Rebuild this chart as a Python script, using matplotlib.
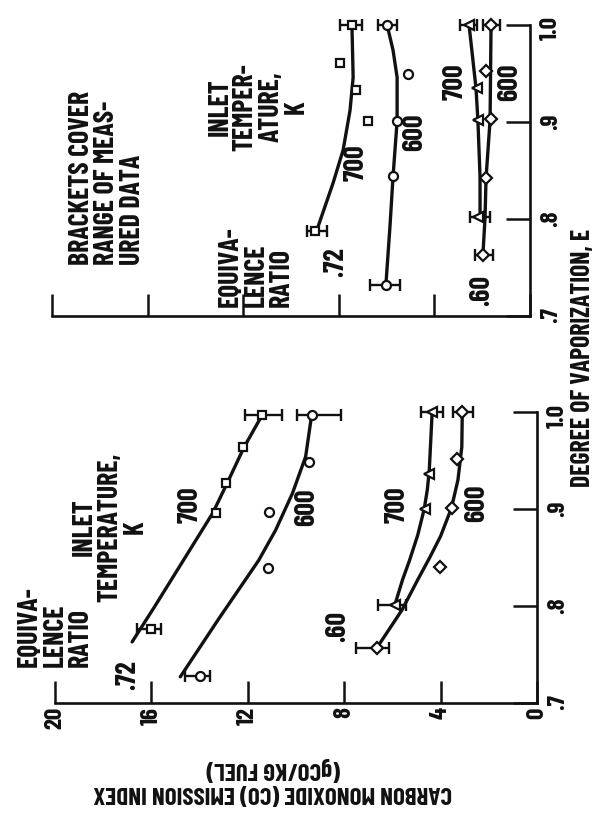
import matplotlib
matplotlib.use('Agg')
import numpy as np
import matplotlib.pyplot as plt

plt.rcParams['font.family'] = ['Barlow Condensed', 'Liberation Sans Narrow', 'DejaVu Sans']
plt.rcParams['font.weight'] = 'bold'

# The page is printed turned 90 deg: emission index runs right-to-left along
# the bottom of each panel, degree of vaporization runs upward on the right.

# ---- left panel of the original (lower panel on the page) ----
# equivalence ratio .72, inlet 700 K (squares)
l72_700_e = [0.776, 0.896, 0.927, 0.964, 0.997]
l72_700_co = [16.0, 13.3, 12.9, 12.2, 11.4]
l72_700_fit_e = [0.763, 0.8, 0.85, 0.896, 0.927, 0.964, 0.997]
l72_700_fit_co = [16.8, 15.85, 14.6, 13.45, 12.85, 12.15, 11.4]
l72_700_br_e = [0.776, 0.997]
l72_700_br_lo = [15.6, 10.6]
l72_700_br_hi = [16.6, 12.1]

# equivalence ratio .72, inlet 600 K (circles)
l72_600_e = [0.728, 0.839, 0.897, 0.948, 0.997]
l72_600_co = [14.0, 11.15, 11.1, 9.46, 9.35]
l72_600_fit_e = [0.727, 0.787, 0.827, 0.847, 0.878, 0.916, 0.954, 0.997]
l72_600_fit_co = [14.8, 13.2, 12.1, 11.55, 10.85, 10.15, 9.6, 9.35]
l72_600_br_e = [0.728, 0.997]
l72_600_br_lo = [13.55, 8.14]
l72_600_br_hi = [14.6, 9.95]

# equivalence ratio .60, inlet 700 K (triangles)
l60_700_e = [0.801, 0.900, 0.936, 1.0]
l60_700_co = [5.9, 4.63, 4.49, 4.35]
l60_700_fit_e = [0.801, 0.827, 0.847, 0.873, 0.9, 0.92, 0.94, 1.0]
l60_700_fit_co = [5.9, 5.58, 5.29, 4.95, 4.68, 4.55, 4.47, 4.35]
l60_700_br_e = [0.801, 1.0]
l60_700_br_lo = [5.43, 3.9]
l60_700_br_hi = [6.61, 4.8]

# equivalence ratio .60, inlet 600 K (diamonds)
l60_600_e = [0.757, 0.84, 0.901, 0.952, 1.0]
l60_600_co = [6.64, 4.01, 3.54, 3.33, 3.1]
l60_600_fit_e = [0.757, 0.796, 0.827, 0.85, 0.872, 0.901, 0.93, 0.964, 1.0]
l60_600_fit_co = [6.64, 5.6, 4.95, 4.45, 4.0, 3.55, 3.28, 3.12, 3.1]
l60_600_br_e = [0.757, 1.0]
l60_600_br_lo = [6.13, 2.65]
l60_600_br_hi = [7.51, 3.49]

# ---- right panel of the original (upper panel on the page) ----
r72_700_e = [0.788, 0.901, 0.933, 0.961, 1.0]
r72_700_co = [9.0, 6.78, 7.28, 7.95, 7.45]
r72_700_fit_e = [0.792, 0.837, 0.871, 0.912, 0.946, 1.0]
r72_700_fit_co = [8.87, 8.24, 7.82, 7.53, 7.4, 7.45]
r72_700_br_e = [0.788, 1.0]
r72_700_br_lo = [8.5, 7.03]
r72_700_br_hi = [9.33, 7.95]

r72_600_e = [0.732, 0.844, 0.901, 0.95, 1.0]
r72_600_co = [6.03, 5.73, 5.56, 5.1, 5.98]
r72_600_fit_e = [0.732, 0.792, 0.844, 0.901, 0.946, 0.974, 1.0]
r72_600_fit_co = [6.03, 5.86, 5.73, 5.56, 5.56, 5.73, 5.98]
r72_600_br_e = [0.732, 1.0]
r72_600_br_lo = [5.44, 5.56]
r72_600_br_hi = [6.69, 6.36]

r60_700_e = [0.802, 0.902, 0.935, 1.0]
r60_700_co = [2.18, 2.18, 2.22, 2.55]
r60_700_fit_e = [0.802, 0.843, 0.902, 0.935, 1.0]
r60_700_fit_co = [2.09, 2.09, 2.18, 2.26, 2.55]
r60_700_br_e = [0.802, 1.0]
r60_700_br_lo = [1.67, 2.22]
r60_700_br_hi = [2.5, 2.93]

r60_600_e = [0.763, 0.842, 0.903, 0.953, 1.0]
r60_600_co = [1.97, 1.84, 1.63, 1.84, 1.63]
r60_600_fit_e = [0.763, 0.802, 0.842, 0.902, 1.0]
r60_600_fit_co = [1.97, 1.88, 1.84, 1.67, 1.63]
r60_600_br_e = [0.763, 1.0]
r60_600_br_lo = [1.55, 1.26]
r60_600_br_hi = [2.3, 1.97]

co_ticks = [0, 4, 8, 12, 16, 20]
co_labels = ['0', '4', '8', '12', '16', '20']
e_ticks = [0.7, 0.8, 0.9, 1.0]
e_labels = ['.7', '.8', '.9', '1.0']

INK = '#111111'
W, H = 594, 819


def px(x, y):
    # page pixel (from top-left) -> figure fraction
    return x / W, 1 - y / H


def draw_series(ax, e, co, fit_e, fit_co, br_e, br_lo, br_hi, marker, ms):
    ax.plot(fit_co, fit_e, '-', color=INK, lw=2.4, solid_capstyle='round', zorder=2, clip_on=False)
    br_e = np.array(br_e)
    lo = np.array(br_lo)
    hi = np.array(br_hi)
    mid = (lo + hi) / 2
    ax.errorbar(mid, br_e, xerr=(hi - lo) / 2, fmt='none', ecolor=INK,
                elinewidth=1.7, capsize=4.5, capthick=1.7, zorder=3, clip_on=False)
    ax.plot(co, e, linestyle='none', marker=marker, ms=ms, mfc='white', mec=INK,
            mew=1.6, zorder=4, clip_on=False)


def setup_axes(ax, show_co_labels):
    ax.set_xlim(20, 0)
    ax.set_ylim(0.7, 1.0)
    for s in ['top', 'left']:
        ax.spines[s].set_visible(False)
    for s in ['bottom', 'right']:
        ax.spines[s].set_linewidth(1.9)
        ax.spines[s].set_color(INK)
    ax.set_xticks(co_ticks)
    ax.set_xticklabels(co_labels if show_co_labels else [])
    ax.set_yticks(e_ticks)
    ax.set_yticklabels(e_labels)
    ax.yaxis.tick_right()
    ax.tick_params(axis='x', direction='in', length=16, width=1.8, color=INK,
                   labelsize=18, labelrotation=90, pad=3, labelcolor=INK)
    ax.tick_params(axis='y', direction='in', length=17, width=1.8, color=INK,
                   labelsize=18, labelrotation=90, pad=7, labelcolor=INK,
                   left=False, right=True, labelleft=False, labelright=True)
    ax.patch.set_alpha(0)


fig = plt.figure(figsize=(W / 100, H / 100), dpi=100)

x0, y0 = px(55, 703)
x1, y1 = px(537, 412)
ax_l = fig.add_axes([x0, y0, x1 - x0, y1 - y0])
x0, y0 = px(52, 316)
x1, y1 = px(530, 25)
ax_r = fig.add_axes([x0, y0, x1 - x0, y1 - y0])

setup_axes(ax_l, True)
setup_axes(ax_r, False)

draw_series(ax_l, l72_700_e, l72_700_co, l72_700_fit_e, l72_700_fit_co,
            l72_700_br_e, l72_700_br_lo, l72_700_br_hi, 's', 6)
draw_series(ax_l, l72_600_e, l72_600_co, l72_600_fit_e, l72_600_fit_co,
            l72_600_br_e, l72_600_br_lo, l72_600_br_hi, 'o', 6.5)
draw_series(ax_l, l60_700_e, l60_700_co, l60_700_fit_e, l60_700_fit_co,
            l60_700_br_e, l60_700_br_lo, l60_700_br_hi, '<', 6.5)
draw_series(ax_l, l60_600_e, l60_600_co, l60_600_fit_e, l60_600_fit_co,
            l60_600_br_e, l60_600_br_lo, l60_600_br_hi, 'D', 6)

draw_series(ax_r, r72_700_e, r72_700_co, r72_700_fit_e, r72_700_fit_co,
            r72_700_br_e, r72_700_br_lo, r72_700_br_hi, 's', 6)
draw_series(ax_r, r72_600_e, r72_600_co, r72_600_fit_e, r72_600_fit_co,
            r72_600_br_e, r72_600_br_lo, r72_600_br_hi, 'o', 6.5)
draw_series(ax_r, r60_700_e, r60_700_co, r60_700_fit_e, r60_700_fit_co,
            r60_700_br_e, r60_700_br_lo, r60_700_br_hi, '<', 6.5)
draw_series(ax_r, r60_600_e, r60_600_co, r60_600_fit_e, r60_600_fit_co,
            r60_600_br_e, r60_600_br_lo, r60_600_br_hi, 'D', 6)

FS = 20


def note(x, y, s, ha='center', va='center', ma='center', rot=90, fs=FS):
    fig.text(*px(x, y), s, rotation=rot, ha=ha, va=va, multialignment=ma,
             fontsize=fs, color=INK, linespacing=1.02)


# lower (left) panel labels
note(55, 667, 'EQUIVA-\nLENCE\nRATIO', va='bottom', ma='left')
note(128, 675, '.72')
note(110, 527, 'INLET\nTEMPERATURE,\nK')
note(190, 505, '700')
note(307, 507, '600')
note(338, 627, '.60')
note(397, 505, '700')
note(477, 503, '600')

# upper (right) panel labels
note(107, 265, 'BRACKETS COVER\nRANGE OF MEAS-\nURED DATA', va='bottom', ma='left')
note(256, 307, 'EQUIVA-\nLENCE\nRATIO', va='bottom', ma='left')
note(258, 107, 'INLET\nTEMPER-\nATURE,\nK')
note(336, 262, '.72')
note(356, 163, '700')
note(415, 132, '600')
note(482, 290, '.60')
note(455, 82, '700')
note(510, 82, '600')

# axis titles
note(583, 358, 'DEGREE OF VAPORIZATION, E', fs=18.5)
note(273, 780, 'CARBON MONOXIDE (CO) EMISSION INDEX\n(gCO/KG FUEL)', rot=180, fs=18)

fig.savefig('out.png', dpi=100, facecolor='white')
